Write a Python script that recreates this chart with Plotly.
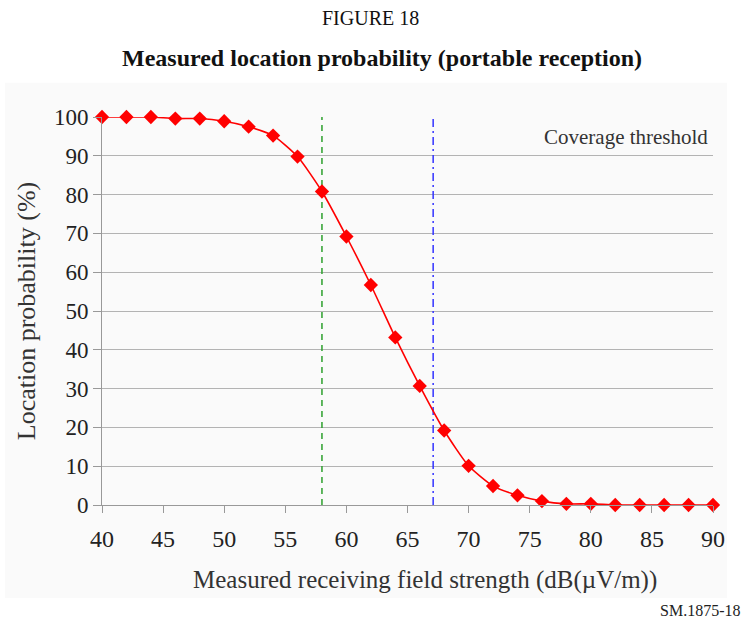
import plotly.graph_objects as go

field_strength = [40, 42, 44, 46, 48, 50, 52, 54, 56, 58, 60, 62, 64, 66, 68, 70, 72, 74, 76, 78, 80, 82, 84, 86, 88, 90]
location_prob = [100, 100, 100, 99.6, 99.6, 98.9, 97.5, 95.2, 89.8, 80.8, 69.2, 56.7, 43.2, 30.7, 19.2, 10.1, 4.9, 2.5, 1.0, 0.3, 0.3, 0, 0, 0, 0, 0]
green_line_x = 58.0
blue_line_x = 67.1
x_ticks = [40, 45, 50, 55, 60, 65, 70, 75, 80, 85, 90]
y_ticks = [0, 10, 20, 30, 40, 50, 60, 70, 80, 90, 100]

FONT = "Liberation Serif"

fig = go.Figure()

fig.add_trace(go.Scatter(
    x=[green_line_x, green_line_x], y=[0, 100], mode="lines",
    line=dict(color="#2ca02c", width=1.5, dash="6px,5px"), showlegend=False, hoverinfo="skip"))
fig.add_trace(go.Scatter(
    x=[blue_line_x, blue_line_x], y=[0, 100], mode="lines",
    line=dict(color="#3333ff", width=1.5, dash="8px,4px,2px,4px"), showlegend=False, hoverinfo="skip"))

fig.add_trace(go.Scatter(
    x=field_strength, y=location_prob, mode="lines+markers",
    line=dict(color="#ff0000", width=1.6, shape="spline", smoothing=0.6),
    marker=dict(symbol="diamond", size=11, color="#ff0000"),
    cliponaxis=False, showlegend=False))

fig.add_shape(type="rect", xref="paper", yref="paper",
              x0=-0.159, x1=1.023, y0=-0.24, y1=1.088,
              fillcolor="#fafafa", line=dict(width=0), layer="below")

fig.update_layout(
    width=744, height=625,
    margin=dict(l=102, r=31, t=117, b=120),
    paper_bgcolor="white",
    plot_bgcolor="rgba(0,0,0,0)",
    font=dict(family=FONT, size=20, color="#222222"),
    xaxis=dict(
        range=[40, 90], tickvals=x_ticks, showgrid=False, zeroline=False,
        showline=True, linecolor="#999999", linewidth=1,
        ticks="outside", ticklen=7, tickcolor="#999999", ticklabelstandoff=5,
        tickfont=dict(family=FONT, size=24, color="#222222"),
    ),
    yaxis=dict(
        range=[0, 100], tickvals=y_ticks, showgrid=True, gridcolor="#b3b3b3", gridwidth=1,
        zeroline=False, showline=True, linecolor="#999999", linewidth=1,
        ticks="outside", ticklen=8, tickcolor="#999999",
        tickfont=dict(family=FONT, size=23, color="#222222"),
        title=dict(text="Location probability (%)",
                   font=dict(family=FONT, size=26, color="#333333"), standoff=10),
    ),
    annotations=[
        dict(text="FIGURE 18", xref="paper", yref="paper", x=0.439, y=1.255,
             showarrow=False, font=dict(family=FONT, size=20, color="#111111"),
             xanchor="center", yanchor="middle"),
        dict(text="<b>Measured location probability (portable reception)</b>", xref="paper", yref="paper",
             x=0.458, y=1.152, showarrow=False, font=dict(family=FONT, size=24, color="#111111"),
             xanchor="center", yanchor="middle"),
        dict(text="Measured receiving field strength (dB(µV/m))", xref="paper", yref="paper",
             x=0.529, y=-0.193, showarrow=False, font=dict(family=FONT, size=25, color="#333333"),
             xanchor="center", yanchor="middle"),
        dict(text="Coverage threshold", xref="paper", yref="paper", x=0.995, y=0.948,
             showarrow=False, font=dict(family=FONT, size=21, color="#333333"),
             xanchor="right", yanchor="middle"),
        dict(text="SM.1875-18", xref="paper", yref="paper", x=1.048, y=-0.271,
             showarrow=False, font=dict(family=FONT, size=16, color="#222222"),
             xanchor="right", yanchor="middle"),
    ],
)

fig.write_html("out.html")
